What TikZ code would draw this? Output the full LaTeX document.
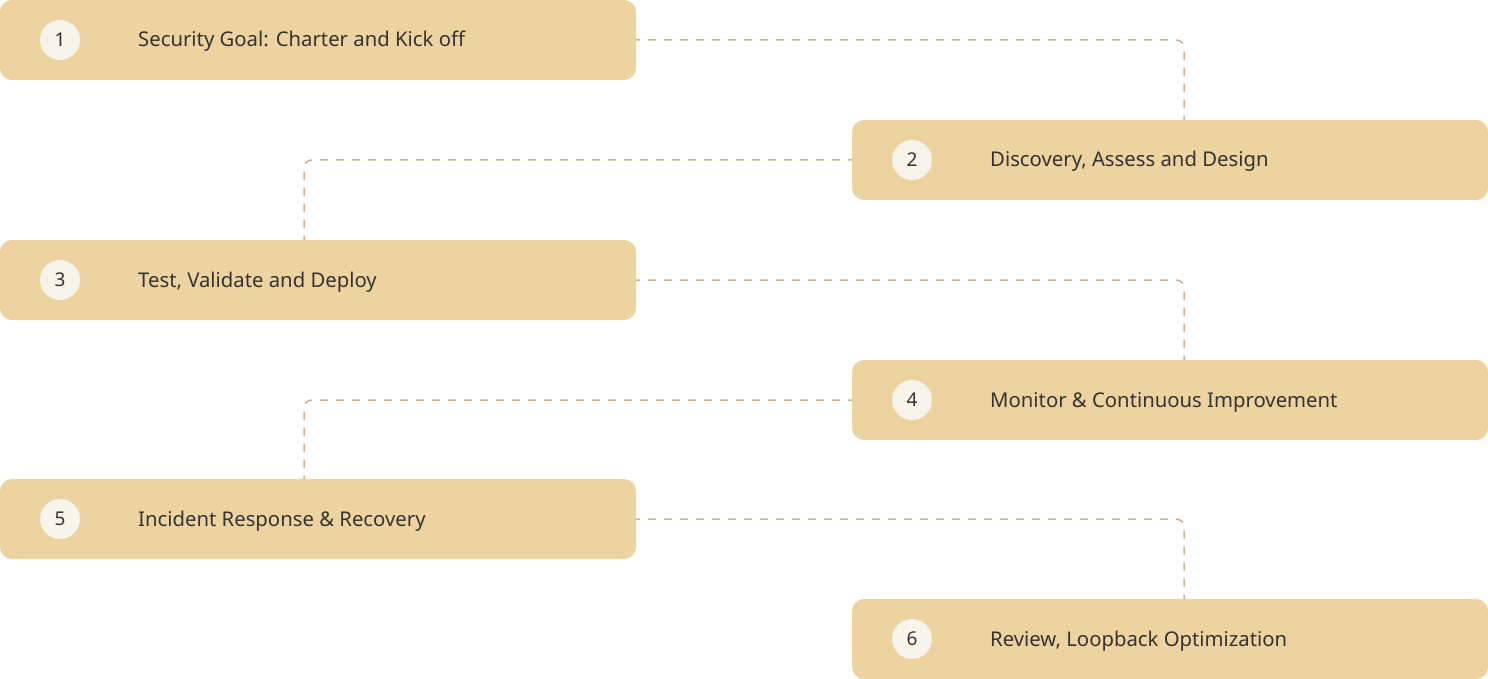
\documentclass[tikz,border=0pt]{standalone}
\usepackage{fontspec}
\setmainfont{Noto Sans}
\definecolor{boxfill}{HTML}{ECD3A0}
\definecolor{circfill}{HTML}{F7F4EC}
\definecolor{txt}{HTML}{333333}
\definecolor{dashc}{HTML}{CFB28A}
\begin{document}
\begin{tikzpicture}[x=1pt,y=-1pt,
  stage/.style={draw=none,fill=boxfill,rounded corners=12pt,minimum width=636pt,minimum height=80pt,inner sep=0pt,outer sep=0pt},
  num/.style={circle,fill=circfill,minimum size=40pt,inner sep=0pt,text=txt,font=\fontsize{19}{22}\selectfont},
  lbl/.style={anchor=base west,text=txt,font=\fontsize{20.3}{24}\selectfont,inner sep=0pt},
  conn/.style={draw=dashc,line width=1.5pt,dash pattern=on 8pt off 8pt,dash phase=4pt,rounded corners=8pt}]
\useasboundingbox (0,0) rectangle (1488,679);
\node[stage] (b1) at (318,40) {};
\node[stage] (b2) at (1170,160) {};
\node[stage] (b3) at (318,280) {};
\node[stage] (b4) at (1170,400) {};
\node[stage] (b5) at (318,519) {};
\node[stage] (b6) at (1170,639) {};
\node[num] (n1) at (60,40) {1};
\node[num] (n2) at (912,160) {2};
\node[num] (n3) at (60,280) {3};
\node[num] (n4) at (912,400) {4};
\node[num] (n5) at (60,519) {5};
\node[num] (n6) at (912,639) {6};
\node[lbl] (t1) at (138,47) {Security Goal: Charter and Kick off};
\node[lbl] (t2) at (990,167) {Discovery, Assess and Design};
\node[lbl] (t3) at (138,287) {Test, Validate and Deploy};
\node[lbl] (t4) at (990,407) {Monitor \& Continuous Improvement};
\node[lbl] (t5) at (138,526) {Incident Response \& Recovery};
\node[lbl] (t6) at (990,646) {Review, Loopback Optimization};
\draw[conn] (b1.east) -| ([xshift=14pt]b2.north);
\draw[conn] (b2.west) -| ([xshift=-14pt]b3.north);
\draw[conn] (b3.east) -| ([xshift=14pt]b4.north);
\draw[conn] (b4.west) -| ([xshift=-14pt]b5.north);
\draw[conn] (b5.east) -| ([xshift=14pt]b6.north);
\end{tikzpicture}
\end{document}
